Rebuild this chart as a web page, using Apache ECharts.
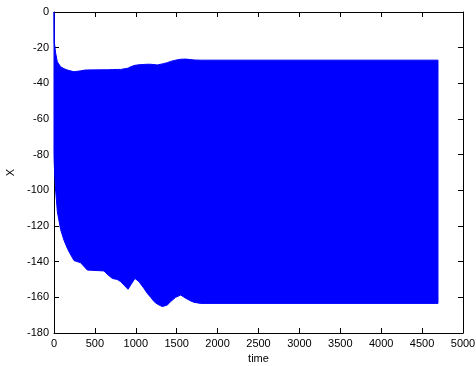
<!DOCTYPE html>
<html>
<head>
<meta charset="utf-8">
<script src="https://cdn.jsdelivr.net/npm/echarts@6/dist/echarts.min.js"></script>
<style>html,body{margin:0;padding:0;background:#fff}#c{width:476px;height:366px}</style>
</head>
<body>
<div id="c"></div>
<script>
var time = [0, 3, 10, 20, 41, 81, 122, 163, 183, 245, 326, 387, 408, 611, 652, 713, 774, 815, 905, 937, 990, 1039, 1100, 1141, 1182, 1223, 1263, 1324, 1386, 1426, 1487, 1549, 1610, 1671, 1712, 1793, 4694];
var upperEnv = [0, -17, -19, -23, -28, -30.7, -31.8, -32.5, -32.8, -33.5, -33, -32.5, -32.5, -32.4, -32.4, -32.3, -32.2, -32.2, -31.5, -30.7, -29.9, -29.6, -29.4, -29.3, -29.3, -29.5, -29.7, -29.1, -28.4, -27.7, -27, -26.5, -26.4, -26.7, -26.9, -27, -27];
var lowerEnv = [-80, -85, -92, -100, -112, -122, -128, -132.5, -134.4, -139.4, -140.6, -143.7, -144.7, -145.2, -147.1, -149.4, -150, -151.2, -155.5, -153.1, -149.4, -151.2, -155, -157.8, -160, -162.4, -163.8, -165.2, -164.3, -162.4, -160, -158.7, -160.5, -162, -162.8, -163.4, -163.4];
var xTicks = {min: 0, max: 5000, interval: 500};
var yTicks = {min: -180, max: 0, interval: 20};

// the signal oscillates so fast that it fills the band between its envelopes
var envData = time.map(function (t, i) { return [t, upperEnv[i], lowerEnv[i]]; });

var font = 'Liberation Sans, Arial, sans-serif';
function axisBase() {
  return {
    axisLine: {show: true, onZero: false, lineStyle: {color: '#000', width: 1}},
    axisTick: {show: true, inside: true, length: 5, lineStyle: {color: '#000'}},
    splitLine: {show: false}
  };
}
function mk(extra) { return Object.assign(axisBase(), extra); }
function plain(v) { return String(v); }

function renderBand(params, api) {
  if (params.dataIndex !== 0) return null;
  var pts = [];
  for (var i = 0; i < envData.length; i++) pts.push(api.coord([envData[i][0], envData[i][1]]));
  for (var j = envData.length - 1; j >= 0; j--) pts.push(api.coord([envData[j][0], envData[j][2]]));
  return {
    type: 'polygon',
    shape: {points: pts},
    style: {fill: '#0000ff', stroke: '#0000ff', lineWidth: 1}
  };
}

var chart = echarts.init(document.getElementById('c'));
chart.setOption({
  animation: false,
  backgroundColor: '#fff',
  grid: {left: 54, top: 12, right: 13, bottom: 33, outerBoundsMode: 'none'},
  xAxis: [
    mk({type: 'value', position: 'bottom', min: xTicks.min, max: xTicks.max, interval: xTicks.interval,
      name: 'time', nameLocation: 'middle', nameGap: 18,
      nameTextStyle: {color: '#000', fontSize: 11, fontFamily: font},
      axisLabel: {color: '#000', fontSize: 11, fontFamily: font, margin: 5, formatter: plain}}),
    mk({type: 'value', position: 'top', min: xTicks.min, max: xTicks.max, interval: xTicks.interval,
      axisLabel: {show: false}})
  ],
  yAxis: [
    mk({type: 'value', position: 'left', min: yTicks.min, max: yTicks.max, interval: yTicks.interval,
      name: 'X', nameLocation: 'middle', nameGap: 38, nameRotate: 90,
      nameTextStyle: {color: '#000', fontSize: 11, fontFamily: font},
      axisLabel: {color: '#000', fontSize: 11, fontFamily: font, margin: 5, formatter: plain}}),
    mk({type: 'value', position: 'right', min: yTicks.min, max: yTicks.max, interval: yTicks.interval,
      axisLabel: {show: false}})
  ],
  series: [
    {type: 'custom', xAxisIndex: 0, yAxisIndex: 0, data: envData, z: 10,
      encode: {x: 0, y: [1, 2]}, renderItem: renderBand, silent: true}
  ]
});
</script>
</body>
</html>
